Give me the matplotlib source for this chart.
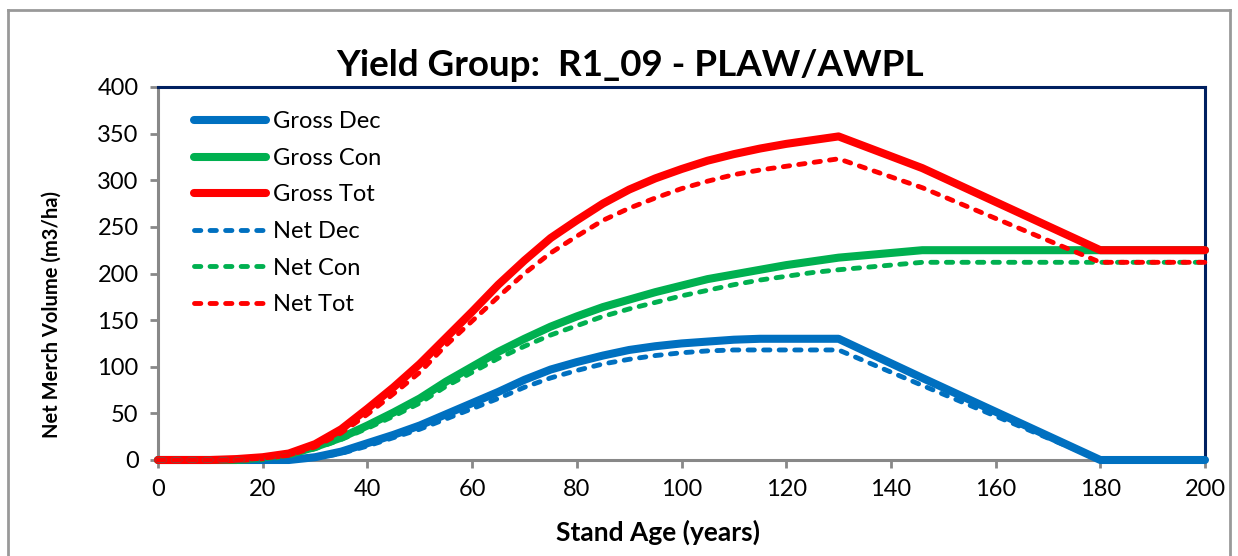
import numpy as np
import matplotlib.pyplot as plt
from matplotlib.lines import Line2D

# stand age (years)
age = [0, 5, 10, 15, 20, 25, 30, 35, 40, 45, 50, 55, 60, 65, 70, 75, 80, 85, 90,
       95, 100, 105, 110, 115, 120, 125, 130, 146, 180, 200]

gross_dec = [0, 0, 0, 0, 0, 0, 3, 9, 18, 27, 37, 49, 61, 73, 86, 97, 105, 112, 118,
             122, 125, 127, 129, 130, 130, 130, 130, 88, 0, 0]
gross_con = [0, 0, 0, 0, 2, 6, 14, 24, 37, 51, 66, 84, 100, 116, 130, 143, 154, 164, 172,
             180, 187, 194, 199, 204, 209, 213, 217, 225, 225, 225]
gross_tot = [0, 0, 0, 1, 3, 7, 17, 33, 55, 78, 103, 131, 159, 188, 214, 238, 257, 275, 290,
             302, 312, 321, 328, 334, 339, 343, 347, 313, 225, 225]
net_dec = [0, 0, 0, 0, 0, 0, 2, 7, 15, 24, 33, 44, 55, 66, 78, 88, 96, 103, 108,
           112, 115, 117, 118, 118, 118, 118, 118, 80, 0, 0]
net_con = [0, 0, 0, 0, 1, 5, 12, 22, 34, 47, 61, 79, 94, 109, 122, 134, 144, 154, 162,
           169, 176, 182, 188, 193, 197, 201, 204, 212, 212, 212]
net_tot = [0, 0, 0, 0, 2, 5, 14, 29, 49, 71, 94, 123, 149, 175, 200, 222, 240, 257, 270,
           281, 291, 299, 306, 311, 315, 319, 323, 292, 212, 212]

xticks = list(range(0, 201, 20))
yticks = list(range(0, 401, 50))

BLUE = '#0070C0'
GREEN = '#00B050'
RED = '#FF0000'
FONT = 'Lato'

fig = plt.figure(figsize=(12.38, 5.56), dpi=100)
ax = fig.add_axes([158 / 1238, 1 - 460 / 556, (1205 - 158) / 1238, (460 - 87) / 556])

# outer chart border
for xs, ys in [([8 / 1238, 8 / 1238], [0, 1 - 10 / 556]),
               ([8 / 1238, 1230 / 1238], [1 - 10 / 556, 1 - 10 / 556]),
               ([1230 / 1238, 1230 / 1238], [0, 1 - 10 / 556])]:
    fig.add_artist(Line2D(xs, ys, color='#999999', lw=2, transform=fig.transFigure))

solid = dict(lw=5.8, solid_capstyle='round', solid_joinstyle='round', clip_on=False)
dash = dict(lw=3.5, dash_capstyle='round', dashes=(1.3, 1.9), clip_on=False)

ax.plot(age, gross_dec, color=BLUE, label='Gross Dec', zorder=3, **solid)
ax.plot(age, gross_con, color=GREEN, label='Gross Con', zorder=4, **solid)
ax.plot(age, gross_tot, color=RED, label='Gross Tot', zorder=5, **solid)
ax.plot(age, net_dec, color=BLUE, label='Net Dec', zorder=6, **dash)
ax.plot(age, net_con, color=GREEN, label='Net Con', zorder=7, **dash)
ax.plot(age, net_tot, color=RED, label='Net Tot', zorder=8, **dash)

ax.set_xlim(0, 200)
ax.set_ylim(0, 400)
ax.set_xticks(xticks)
ax.set_yticks(yticks)
ax.tick_params(axis='both', direction='out', length=6, width=2, color='#888888',
               labelsize=17, pad=8)
for lab in ax.get_xticklabels() + ax.get_yticklabels():
    lab.set_fontfamily(FONT)

ax.spines['left'].set_color('#888888')
ax.spines['bottom'].set_color('#888888')
ax.spines['left'].set_linewidth(2.2)
ax.spines['bottom'].set_linewidth(2.2)
ax.spines['top'].set_color('#002060')
ax.spines['right'].set_color('#002060')
ax.spines['top'].set_linewidth(2.2)
ax.spines['right'].set_linewidth(2.2)

ax.set_title('Yield Group:  R1_09 - PLAW/AWPL', fontsize=26.5, fontweight='bold',
             fontfamily=FONT, x=0.451, pad=8)
ax.set_xlabel('Stand Age (years)', fontsize=19, fontweight='bold', fontfamily=FONT)
ax.xaxis.set_label_coords(0.4776, -0.16)
ax.set_ylabel('Net Merch Volume (m3/ha)', fontsize=14.5, fontweight='bold', fontfamily=FONT)
ax.yaxis.set_label_coords(-0.092, 0.39)

leg = ax.legend(loc='upper left', bbox_to_anchor=(0.034, 0.935), frameon=False,
                prop={'family': FONT, 'size': 17}, handlelength=3.05, handletextpad=0.3,
                labelspacing=0.66, borderaxespad=0, borderpad=0)

fig.savefig('out.png', dpi=100)
